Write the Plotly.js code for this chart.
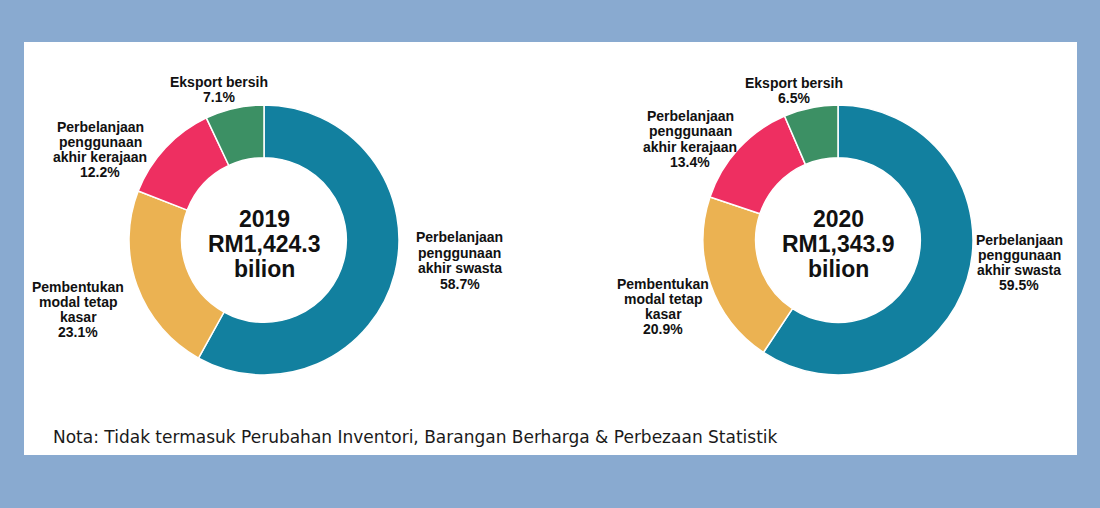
<!DOCTYPE html>
<html>
<head>
<meta charset="utf-8">
<script src="https://cdn.plot.ly/plotly-3.0.1.min.js"></script>
<style>
html,body{margin:0;padding:0;background:#89aad0;}
#chart{width:1100px;height:508px;}
</style>
</head>
<body>
<div id="chart"></div>
<script>
// ---- data ----
const categories = [
  "Perbelanjaan penggunaan akhir swasta",
  "Pembentukan modal tetap kasar",
  "Perbelanjaan penggunaan akhir kerajaan",
  "Eksport bersih"
];
const labelLines = [
  ["Perbelanjaan", "penggunaan", "akhir swasta"],
  ["Pembentukan", "modal tetap", "kasar"],
  ["Perbelanjaan", "penggunaan", "akhir kerajaan"],
  ["Eksport bersih"]
];
const years = ["2019", "2020"];
const totals = ["RM1,424.3", "RM1,343.9"];
const unitLabel = "bilion";
const share2019 = [58.7, 23.1, 12.2, 7.1];
const share2020 = [59.5, 20.9, 13.4, 6.5];
const note = "Nota: Tidak termasuk Perubahan Inventori, Barangan Berharga & Perbezaan Statistik";

// ---- styling / layout ----
const W = 1100, H = 508;
const colors = ["#12809f", "#ebb252", "#ee2f61", "#3c9064"];
const px = x => x / W;
const py = y => 1 - y / H;
const R = 135;
const centers = [[264, 240], [838, 240]];
// label placement per chart: [centerX, firstLineY, lineStep] per category
const labelPos = [
  [[460, 237, 15.5], [78, 287, 15], [100, 127, 15], [219, 82, 15]],
  [[1019, 240, 15], [663, 284, 15], [690, 116, 15.3], [794, 83, 14.5]]
];
const shares = [share2019, share2020];

const traces = shares.map((vals, i) => ({
  type: "pie",
  labels: categories,
  values: vals,
  sort: false,
  direction: "clockwise",
  rotation: 0,
  hole: 0.61,
  textinfo: "none",
  hoverinfo: "label+value",
  marker: {colors: colors, line: {color: "#ffffff", width: 1.5}},
  domain: {
    x: [px(centers[i][0] - R), px(centers[i][0] + R)],
    y: [py(centers[i][1] + R), py(centers[i][1] - R)]
  },
  showlegend: false
}));

const annotations = [];
const lblFont = {family: "Liberation Sans, Arial, sans-serif", size: 14, color: "#111111"};
shares.forEach((vals, i) => {
  categories.forEach((c, k) => {
    const lines = labelLines[k].concat([vals[k].toFixed(1) + "%"]);
    const [cx, y0, step] = labelPos[i][k];
    lines.forEach((t, j) => {
      annotations.push({
        xref: "paper", yref: "paper",
        x: px(cx), y: py(y0 + j * step),
        xanchor: "center", yanchor: "middle",
        text: "<b>" + t + "</b>", showarrow: false, font: lblFont
      });
    });
  });
  const centerLines = [years[i], totals[i], unitLabel];
  centerLines.forEach((t, j) => {
    annotations.push({
      xref: "paper", yref: "paper",
      x: px(centers[i][0]), y: py(centers[i][1] - 21.5 + j * 25.3),
      xanchor: "center", yanchor: "middle",
      text: "<b>" + t + "</b>", showarrow: false,
      font: {family: "Liberation Sans, Arial, sans-serif", size: 23, color: "#111111"}
    });
  });
});
annotations.push({
  xref: "paper", yref: "paper",
  x: px(51), y: py(437), xanchor: "left", yanchor: "middle",
  text: note, showarrow: false,
  font: {family: "DejaVu Sans, sans-serif", size: 17, color: "#1a1a1a"}
});

const layout = {
  width: W, height: H,
  margin: {l: 0, r: 0, t: 0, b: 0},
  paper_bgcolor: "#89aad0",
  plot_bgcolor: "rgba(0,0,0,0)",
  shapes: [{
    type: "rect", xref: "paper", yref: "paper", layer: "below",
    x0: px(24), x1: px(1077), y0: py(455), y1: py(42),
    fillcolor: "#ffffff", line: {width: 0}
  }],
  annotations: annotations
};

Plotly.newPlot("chart", traces, layout, {displayModeBar: false, staticPlot: true});
</script>
</body>
</html>
